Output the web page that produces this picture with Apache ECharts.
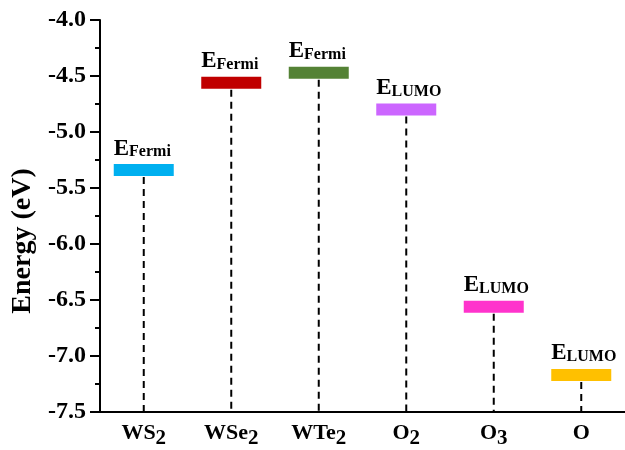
<!DOCTYPE html>
<html><head><meta charset="utf-8">
<script src="https://cdn.jsdelivr.net/npm/echarts@6/dist/echarts.min.js"></script>
<style>html,body{margin:0;padding:0;background:#fff}#c{width:625px;height:450px}</style>
</head><body><div id="c"></div>
<script>
// ---- data ----
const categories = ['WS2', 'WSe2', 'WTe2', 'O2', 'O3', 'O'];
const categoryMain = ['WS', 'WSe', 'WTe', 'O', 'O', 'O'];
const categorySub = ['2', '2', '2', '2', '3', ''];
const energyLevels = [-5.34, -4.56, -4.47, -4.80, -6.56, -7.17];
const levelTypes = ['Fermi', 'Fermi', 'Fermi', 'LUMO', 'LUMO', 'LUMO'];
const levelColors = ['#00B0F0', '#C00000', '#548235', '#CC66FF', '#FF33CC', '#FFC000'];
const yMin = -7.5, yMax = -4.0, yInterval = 0.5;
const yAxisName = 'Energy (eV)';

const FONT = '"Liberation Serif", "Times New Roman", serif';
const chart = echarts.init(document.getElementById('c'), null, {renderer: 'canvas'});

const seriesData = categories.map((c, i) => [i, energyLevels[i]]);

chart.setOption({
  backgroundColor: '#fff',
  animation: false,
  grid: {left: 100, top: 20, bottom: 37, right: -13, containLabel: false},
  xAxis: {
    type: 'category',
    data: categories,
    axisLine: {show: true, lineStyle: {color: '#000', width: 2}},
    axisTick: {show: false},
    splitLine: {show: false},
    axisLabel: {
      interval: 0,
      margin: 10,
      formatter: (v, idx) => categorySub[idx]
        ? '{m|' + categoryMain[idx] + '}{s|' + categorySub[idx] + '}'
        : '{p|' + categoryMain[idx] + '}',
      rich: {
        m: {fontFamily: FONT, fontWeight: 'bold', fontSize: 22, color: '#000', lineHeight: 22},
        p: {fontFamily: FONT, fontWeight: 'bold', fontSize: 22, color: '#000', lineHeight: 22, padding: [6, 0, 6, 0]},
        s: {fontFamily: FONT, fontWeight: 'bold', fontSize: 21, color: '#000', lineHeight: 22, padding: [12, 0, 0, 0]}
      }
    }
  },
  yAxis: {
    type: 'value',
    min: yMin, max: yMax, interval: yInterval,
    name: yAxisName,
    nameLocation: 'middle',
    nameRotate: 90,
    nameGap: 59,
    nameTextStyle: {fontFamily: FONT, fontWeight: 'bold', fontSize: 28, color: '#000', padding: [0, 50, 0, 0]},
    axisLine: {show: true, lineStyle: {color: '#000', width: 2}},
    axisTick: {show: true, inside: false, length: 10, lineStyle: {color: '#000', width: 2}},
    minorTick: {show: true, splitNumber: 2, length: 5, lineStyle: {color: '#000', width: 2}},
    splitLine: {show: false},
    axisLabel: {
      margin: 14,
      formatter: v => v.toFixed(1),
      fontFamily: FONT, fontWeight: 'bold', fontSize: 24, color: '#000'
    }
  },
  series: [{
    type: 'custom',
    data: seriesData,
    clip: false,
    renderItem: function (params, api) {
      const i = api.value(0);
      const v = api.value(1);
      const p = api.coord([i, v]);
      const base = api.coord([i, yMin]);
      const bw = 60, bh = 12;
      return {
        type: 'group',
        children: [
          {type: 'line', shape: {x1: p[0], y1: p[1] + bh / 2 + 1, x2: p[0], y2: base[1]},
           style: {stroke: '#000', lineWidth: 2, lineDash: [7, 5]}},
          {type: 'rect', shape: {x: p[0] - bw / 2, y: p[1] - bh / 2, width: bw, height: bh},
           style: {fill: levelColors[i]}},
          {type: 'text', x: p[0] - bw / 2, y: p[1] - bh / 2 - 4,
           style: {
             text: '{e|E}{s|' + levelTypes[i] + '}',
             align: 'left', verticalAlign: 'bottom',
             rich: {
               e: {fontFamily: FONT, fontWeight: 'bold', fontSize: 23, fill: '#000', lineHeight: 23, verticalAlign: 'bottom'},
               s: {fontFamily: FONT, fontWeight: 'bold', fontSize: 16, fill: '#000', lineHeight: 8, verticalAlign: 'bottom'}
             }
           }}
        ]
      };
    }
  }]
});
</script>
</body></html>
